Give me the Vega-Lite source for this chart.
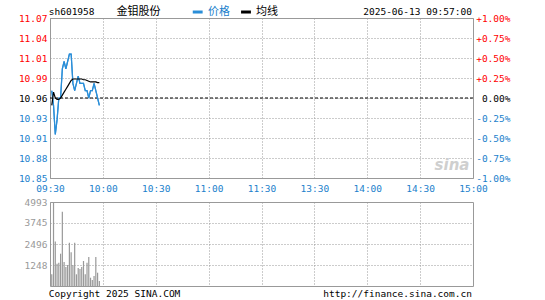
{
  "$schema": "https://vega.github.io/schema/vega-lite/v6.json",
  "background": "white",
  "padding": {"left": 17, "top": 5, "right": 0, "bottom": 0},
  "config": {
    "font": "DejaVu Sans Mono",
    "view": {"stroke": "#999999", "strokeWidth": 1},
    "axis": {
      "labelFont": "DejaVu Sans Mono",
      "labelFontSize": 9.5,
      "ticks": false,
      "tickSize": 0,
      "domain": false,
      "gridColor": "#999999",
      "gridDash": [1, 2],
      "gridWidth": 1,
      "labelOverlap": false,
      "labelFlush": false,
      "labelBound": false,
      "title": null
    },
    "text": {"font": "DejaVu Sans Mono", "fontSize": 9.5}
  },
  "datasets": {
    "minutes": [
      {"m": 1, "price": 10.97, "avg": 10.950, "vol": 695},
      {"m": 2, "price": 10.95, "avg": 10.968, "vol": 4993},
      {"m": 3, "price": 10.91, "avg": 10.960, "vol": 2650},
      {"m": 4, "price": 10.93, "avg": 10.958, "vol": 1325},
      {"m": 5, "price": 10.96, "avg": 10.958, "vol": 1385},
      {"m": 6, "price": 10.96, "avg": 10.960, "vol": 1920},
      {"m": 7, "price": 11.00, "avg": 10.964, "vol": 4415},
      {"m": 8, "price": 11.01, "avg": 10.968, "vol": 1425},
      {"m": 9, "price": 11.00, "avg": 10.972, "vol": 1130},
      {"m": 10, "price": 11.01, "avg": 10.976, "vol": 1250},
      {"m": 11, "price": 11.02, "avg": 10.980, "vol": 2573},
      {"m": 12, "price": 11.02, "avg": 10.984, "vol": 2000},
      {"m": 13, "price": 10.98, "avg": 10.986, "vol": 1250},
      {"m": 14, "price": 10.97, "avg": 10.986, "vol": 2573},
      {"m": 15, "price": 10.98, "avg": 10.986, "vol": 695},
      {"m": 16, "price": 10.99, "avg": 10.986, "vol": 1070},
      {"m": 17, "price": 10.98, "avg": 10.986, "vol": 1010},
      {"m": 18, "price": 10.98, "avg": 10.986, "vol": 1130},
      {"m": 19, "price": 10.98, "avg": 10.985, "vol": 1486},
      {"m": 20, "price": 10.97, "avg": 10.985, "vol": 695},
      {"m": 21, "price": 10.97, "avg": 10.984, "vol": 1385},
      {"m": 22, "price": 10.96, "avg": 10.983, "vol": 1723},
      {"m": 23, "price": 10.97, "avg": 10.982, "vol": 493},
      {"m": 24, "price": 10.97, "avg": 10.982, "vol": 356},
      {"m": 25, "price": 10.98, "avg": 10.982, "vol": 594},
      {"m": 26, "price": 10.97, "avg": 10.982, "vol": 1723},
      {"m": 27, "price": 10.96, "avg": 10.981, "vol": 790},
      {"m": 28, "price": 10.95, "avg": 10.981, "vol": 297}
    ]
  },
  "bounds": "flush",
  "spacing": 24,
  "vconcat": [
    {
      "width": 423,
      "height": 160,
      "resolve": {"axis": {"y": "independent"}},
      "layer": [
        {
          "data": {"name": "minutes"},
          "mark": {"type": "line", "color": "#2A8ED8", "strokeWidth": 1.2, "interpolate": "linear"},
          "encoding": {
            "x": {
              "field": "m", "type": "quantitative",
              "scale": {"domain": [0, 240], "nice": false, "zero": false},
              "axis": {
                "values": [0, 30, 60, 90, 120, 150, 180, 210, 240],
                "labelExpr": "['09:30','10:00','10:30','11:00','11:30','13:30','14:00','14:30','15:00'][round(datum.value/30)]",
                "grid": true,
                "labelColor": "#1B7FCC",
                "labelPadding": 5
              }
            },
            "y": {
              "field": "price", "type": "quantitative",
              "scale": {"domain": [10.8504, 11.0696], "nice": false, "zero": false},
              "axis": {
                "orient": "left",
                "values": [10.8504, 10.8778, 10.9052, 10.9326, 10.96, 10.9874, 11.0148, 11.0422, 11.0696],
                "format": ".2f",
                "grid": true,
                "labelPadding": 3,
                "labelColor": {
                  "condition": [
                    {"test": "datum.value > 10.961", "value": "#FF0000"},
                    {"test": "datum.value < 10.959", "value": "#1B7FCC"}
                  ],
                  "value": "#000000"
                }
              }
            }
          }
        },
        {
          "data": {"values": [{}]},
          "mark": {"type": "rule", "color": "#000000", "strokeDash": [3, 2], "strokeWidth": 1},
          "encoding": {
            "y": {"datum": 10.96, "type": "quantitative", "scale": {"domain": [10.8504, 11.0696], "nice": false, "zero": false}, "axis": null}
          }
        },
        {
          "data": {"name": "minutes"},
          "mark": {"type": "line", "color": "#2A8ED8", "strokeWidth": 1.2},
          "encoding": {
            "x": {"field": "m", "type": "quantitative", "scale": {"domain": [0, 240], "nice": false, "zero": false}},
            "y": {"field": "price", "type": "quantitative", "scale": {"domain": [10.8504, 11.0696], "nice": false, "zero": false}, "axis": null}
          }
        },
        {
          "data": {"name": "minutes"},
          "mark": {"type": "line", "color": "#000000", "strokeWidth": 1.2},
          "encoding": {
            "x": {"field": "m", "type": "quantitative", "scale": {"domain": [0, 240], "nice": false, "zero": false}},
            "y": {
              "field": "avg", "type": "quantitative",
              "scale": {"domain": [10.8504, 11.0696], "nice": false, "zero": false},
              "axis": {
                "orient": "right",
                "values": [10.8504, 10.8778, 10.9052, 10.9326, 10.96, 10.9874, 11.0148, 11.0422, 11.0696],
                "labelExpr": "abs(datum.value-10.96)<0.001 ? '0.00%' : (datum.value>10.96 ? '+' : '-') + format(abs(datum.value/10.96-1)*100, '.2f') + '%'",
                "labelAlign": "right",
                "labelPadding": 37,
                "grid": false,
                "labelColor": {
                  "condition": [
                    {"test": "datum.value > 10.961", "value": "#FF0000"},
                    {"test": "datum.value < 10.959", "value": "#1B7FCC"}
                  ],
                  "value": "#000000"
                }
              }
            }
          }
        },
        {
          "data": {"values": [{}]},
          "mark": {"type": "text", "text": "sina", "align": "right", "baseline": "middle", "font": "DejaVu Sans", "fontSize": 15, "fontStyle": "italic", "fontWeight": "bold", "color": "#CFCFCF"},
          "encoding": {
            "x": {"datum": 238, "type": "quantitative", "scale": {"domain": [0, 240], "nice": false, "zero": false}},
            "y": {"datum": 10.868, "type": "quantitative", "scale": {"domain": [10.8504, 11.0696], "nice": false, "zero": false}, "axis": null}
          }
        },
        {
          "data": {"values": [{}]},
          "mark": {"type": "text", "text": "sh601958", "align": "left", "baseline": "middle", "color": "#000000"},
          "encoding": {
            "x": {"datum": -0.7, "type": "quantitative", "scale": {"domain": [0, 240], "nice": false, "zero": false}},
            "y": {"datum": 11.0778, "type": "quantitative", "scale": {"domain": [10.8504, 11.0696], "nice": false, "zero": false}, "axis": null}
          }
        },
        {
          "data": {"values": [{}]},
          "mark": {"type": "text", "text": "金钼股份", "align": "left", "baseline": "middle", "font": "Noto Sans CJK SC", "fontSize": 11, "color": "#000000"},
          "encoding": {
            "x": {"datum": 37.8, "type": "quantitative", "scale": {"domain": [0, 240], "nice": false, "zero": false}},
            "y": {"datum": 11.0778, "type": "quantitative", "scale": {"domain": [10.8504, 11.0696], "nice": false, "zero": false}, "axis": null}
          }
        },
        {
          "data": {"values": [{}]},
          "mark": {"type": "rule", "color": "#2A8ED8", "strokeWidth": 3},
          "encoding": {
            "x": {"datum": 81, "type": "quantitative", "scale": {"domain": [0, 240], "nice": false, "zero": false}},
            "x2": {"datum": 86.6},
            "y": {"datum": 11.0778, "type": "quantitative", "scale": {"domain": [10.8504, 11.0696], "nice": false, "zero": false}, "axis": null}
          }
        },
        {
          "data": {"values": [{}]},
          "mark": {"type": "text", "text": "价格", "align": "left", "baseline": "middle", "font": "Noto Sans CJK SC", "fontSize": 11, "color": "#1B7FCC"},
          "encoding": {
            "x": {"datum": 89.6, "type": "quantitative", "scale": {"domain": [0, 240], "nice": false, "zero": false}},
            "y": {"datum": 11.0778, "type": "quantitative", "scale": {"domain": [10.8504, 11.0696], "nice": false, "zero": false}, "axis": null}
          }
        },
        {
          "data": {"values": [{}]},
          "mark": {"type": "rule", "color": "#000000", "strokeWidth": 3},
          "encoding": {
            "x": {"datum": 108.4, "type": "quantitative", "scale": {"domain": [0, 240], "nice": false, "zero": false}},
            "x2": {"datum": 114},
            "y": {"datum": 11.0778, "type": "quantitative", "scale": {"domain": [10.8504, 11.0696], "nice": false, "zero": false}, "axis": null}
          }
        },
        {
          "data": {"values": [{}]},
          "mark": {"type": "text", "text": "均线", "align": "left", "baseline": "middle", "font": "Noto Sans CJK SC", "fontSize": 11, "color": "#000000"},
          "encoding": {
            "x": {"datum": 116.9, "type": "quantitative", "scale": {"domain": [0, 240], "nice": false, "zero": false}},
            "y": {"datum": 11.0778, "type": "quantitative", "scale": {"domain": [10.8504, 11.0696], "nice": false, "zero": false}, "axis": null}
          }
        },
        {
          "data": {"values": [{}]},
          "mark": {"type": "text", "text": "2025-06-13 09:57:00", "align": "right", "baseline": "middle", "color": "#000000"},
          "encoding": {
            "x": {"datum": 239.4, "type": "quantitative", "scale": {"domain": [0, 240], "nice": false, "zero": false}},
            "y": {"datum": 11.0778, "type": "quantitative", "scale": {"domain": [10.8504, 11.0696], "nice": false, "zero": false}, "axis": null}
          }
        }
      ]
    },
    {
      "width": 423,
      "height": 84,
      "resolve": {"axis": {"y": "independent", "x": "independent"}},
      "layer": [
        {
          "data": {"name": "minutes"},
          "mark": {"type": "rule", "color": "#999999", "strokeWidth": 1.2},
          "encoding": {
            "x": {
              "field": "m", "type": "quantitative",
              "scale": {"domain": [0, 240], "nice": false, "zero": false},
              "axis": {"values": [30, 60, 90, 120, 150, 180, 210], "labels": false, "grid": true}
            },
            "y": {
              "field": "vol", "type": "quantitative",
              "scale": {"domain": [0, 4993], "nice": false},
              "axis": {"values": [1248, 2496, 3745, 4993], "format": "d", "grid": true, "labelColor": "#999999", "labelPadding": 3, "labelOverlap": false}
            },
            "y2": {"datum": 0}
          }
        },
        {
          "data": {"values": [{}]},
          "mark": {"type": "text", "text": "Copyright 2025 SINA.COM", "align": "left", "baseline": "middle", "color": "#000000"},
          "encoding": {
            "x": {"datum": -0.7, "type": "quantitative", "scale": {"domain": [0, 240], "nice": false, "zero": false}, "axis": null},
            "y": {"datum": -475, "type": "quantitative", "scale": {"domain": [0, 4993], "nice": false}, "axis": null}
          }
        },
        {
          "data": {"values": [{}]},
          "mark": {"type": "text", "text": "http://finance.sina.com.cn", "align": "right", "baseline": "middle", "color": "#000000"},
          "encoding": {
            "x": {"datum": 239.4, "type": "quantitative", "scale": {"domain": [0, 240], "nice": false, "zero": false}, "axis": null},
            "y": {"datum": -475, "type": "quantitative", "scale": {"domain": [0, 4993], "nice": false}, "axis": null}
          }
        }
      ]
    }
  ]
}
